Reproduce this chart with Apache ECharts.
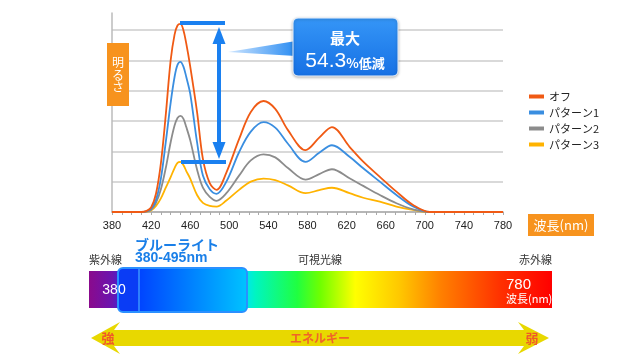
<!DOCTYPE html>
<html><head><meta charset="utf-8">
<script src="https://cdn.jsdelivr.net/npm/echarts@6/dist/echarts.min.js"></script>
<style>html,body{margin:0;padding:0;background:#fff}#c{width:640px;height:360px}</style>
</head><body><div id="c"></div>
<script>
const wavelengths = [380,410,415,420,425,430,435,440,444,447,450,453,456,460,467,473,480,487,497,510,522,535,547,560,578,592,605,623,637,654,671,688,705,720,780];
const offValues   = [0,0,0.03,0.15,0.6,1.6,3.2,5.0,5.85,6.15,6.2,6.0,5.55,4.8,3.3,1.75,0.95,0.73,1.3,2.4,3.3,3.66,3.4,2.7,2.04,2.45,2.8,2.15,1.66,1.16,0.67,0.23,0,0,0];
const p1Values    = [0,0,0.02,0.1,0.4,1.1,2.3,3.6,4.45,4.85,4.95,4.8,4.45,3.9,2.3,1.2,0.75,0.6,1.0,1.97,2.65,2.96,2.78,2.25,1.65,1.95,2.2,1.82,1.44,1.0,0.56,0.18,0,0,0];
const p2Values    = [0,0,0.01,0.07,0.3,0.75,1.45,2.3,2.85,3.1,3.17,3.08,2.8,2.37,1.4,0.8,0.5,0.37,0.62,1.2,1.7,1.9,1.8,1.45,1.07,1.25,1.41,1.11,0.86,0.56,0.29,0.09,0,0,0];
const p3Values    = [0,0,0.01,0.05,0.2,0.45,0.8,1.15,1.45,1.62,1.65,1.55,1.35,1.1,0.56,0.3,0.2,0.18,0.38,0.73,1.0,1.1,1.05,0.88,0.62,0.72,0.8,0.62,0.47,0.34,0.18,0.07,0,0,0];
const seriesNames = ['オフ','パターン1','パターン2','パターン3'];
const seriesColors = ['#f05a14','#3a8ee0','#8c8c8c','#ffb300'];
const xMin = 380, xMax = 780, xStep = 40;
const yMax = 6;

const FONT = "'Liberation Sans','Noto Sans CJK JP',sans-serif";
const JP = "'Noto Sans CJK JP','Liberation Sans',sans-serif";
const allValues = [offValues,p1Values,p2Values,p3Values];

const chart = echarts.init(document.getElementById('c'));
const series = [3,2,1,0].map(k => ({
  name: seriesNames[k], type:'line', xAxisIndex:0, yAxisIndex:0, clip:false,
  data: wavelengths.map((w,i)=>[w, allValues[k][i]]),
  smooth: 0.35, showSymbol:false, z: 5 + (3-k),
  lineStyle:{color:seriesColors[k], width:1.8}, itemStyle:{color:seriesColors[k]}
}));

const spectrum = new echarts.graphic.LinearGradient(0,0,1,0,[
  {offset:0,color:'#8a0a8c'},{offset:0.05,color:'#6a14b0'},{offset:0.08,color:'#2a2ae8'},
  {offset:0.12,color:'#0038ff'},{offset:0.25,color:'#0090ff'},{offset:0.33,color:'#00e0ff'},
  {offset:0.36,color:'#00f5c0'},{offset:0.45,color:'#20ff40'},{offset:0.5,color:'#70ff00'},
  {offset:0.575,color:'#ffff00'},{offset:0.67,color:'#ffc800'},{offset:0.76,color:'#ff8000'},
  {offset:0.89,color:'#ff3000'},{offset:1,color:'#ff0000'}]);

const blueC = '#1a80f0';
chart.setOption({
  animation:false,
  grid:[{left:112, right:137, top:30, bottom:148},
        {left:112, width:1, top:13, bottom:148}],
  xAxis:[{type:'value', gridIndex:0, min:xMin, max:xMax, interval:xStep,
    axisLine:{show:true, lineStyle:{color:'#aaa', width:1.5}},
    axisTick:{show:true, length:3, lineStyle:{color:'#aaa'}},
    minorTick:{show:true, splitNumber:4, length:3, lineStyle:{color:'#aaa'}},
    splitLine:{show:false},
    axisLabel:{color:'#222', fontSize:11, fontFamily:FONT, margin:8}},
    {type:'value', gridIndex:1, show:false, min:0, max:1}],
  yAxis:[{type:'value', gridIndex:0, min:0, max:yMax, interval:1,
    axisLine:{show:false}, axisTick:{show:false}, axisLabel:{show:false},
    splitLine:{show:true, lineStyle:{color:'#cdcdcd', width:1.5}}},
    {type:'value', gridIndex:1, min:0, max:1,
    axisLine:{show:true, lineStyle:{color:'#bbb', width:1.5}},
    axisTick:{show:false}, axisLabel:{show:false}, splitLine:{show:false}}],
  legend:{orient:'vertical', left:524, top:86, itemWidth:15, itemHeight:4, itemGap:5,
    icon:'rect', data:seriesNames, textStyle:{fontSize:11, color:'#222', fontFamily:JP}},
  series: series,
  graphic:[
    {type:'line', shape:{x1:180,y1:23,x2:225,y2:23}, style:{stroke:blueC, lineWidth:4}, z:20},
    {type:'line', shape:{x1:181,y1:162,x2:226,y2:162}, style:{stroke:blueC, lineWidth:4}, z:20},
    {type:'line', shape:{x1:219,y1:38,x2:219,y2:148}, style:{stroke:blueC, lineWidth:4}, z:20},
    {type:'polygon', shape:{points:[[219,27],[212.5,44],[225.5,44]]}, style:{fill:blueC}, z:20},
    {type:'polygon', shape:{points:[[219,159],[212.5,142],[225.5,142]]}, style:{fill:blueC}, z:20},
    {type:'polygon', shape:{points:[[228,52],[296,41],[296,56]]}, z:20,
     style:{fill:new echarts.graphic.LinearGradient(0,0,1,0,[{offset:0,color:'#cfe6ff'},{offset:1,color:'#2a8cf2'}])}},
    {type:'rect', shape:{x:293,y:18,width:105,height:58,r:5}, z:21,
     style:{fill:new echarts.graphic.LinearGradient(0,0,0,1,[{offset:0,color:'#3596f7'},{offset:1,color:'#1670e4'}]),
       stroke:'#e8f2ff', lineWidth:1, shadowBlur:3, shadowColor:'rgba(0,0,0,0.3)', shadowOffsetY:1}},
    {type:'text', x:345, y:38, z:22, style:{text:'最大', fill:'#fff', font:"bold 15px "+JP, align:'center', verticalAlign:'middle'}},
    {type:'text', x:345, y:61, z:22, style:{text:'{a|54.3}{b|%低減}', fill:'#fff', align:'center', verticalAlign:'middle',
      rich:{a:{fontSize:21, fontFamily:FONT, fill:'#fff'}, b:{fontSize:13, fontWeight:'bold', fontFamily:JP, fill:'#fff', padding:[4,0,0,0]}}}},
    {type:'rect', shape:{x:107,y:43,width:22,height:63}, style:{fill:'#f7931e'}, z:20},
    {type:'text', x:118, y:75, z:21, style:{text:'明\nる\nさ', fill:'#fff', font:"12px "+JP, lineHeight:12.5, align:'center', verticalAlign:'middle'}},
    {type:'rect', shape:{x:528,y:214,width:66,height:22}, style:{fill:'#f7931e'}, z:20},
    {type:'text', x:561, y:225, z:21, style:{text:'波長(nm)', fill:'#fff', font:"13px "+JP, align:'center', verticalAlign:'middle'}},
    {type:'rect', shape:{x:89,y:271,width:463,height:37}, style:{fill:spectrum}, z:10},
    {type:'text', x:89, y:260, z:11, style:{text:'紫外線', fill:'#333', font:"11px "+JP, align:'left', verticalAlign:'middle'}},
    {type:'text', x:320, y:260, z:11, style:{text:'可視光線', fill:'#333', font:"11px "+JP, align:'center', verticalAlign:'middle'}},
    {type:'text', x:552, y:260, z:11, style:{text:'赤外線', fill:'#333', font:"11px "+JP, align:'right', verticalAlign:'middle'}},
    {type:'rect', shape:{x:118,y:268,width:129,height:44,r:5}, z:12,
     style:{fill:new echarts.graphic.LinearGradient(0,0,1,0,[{offset:0,color:'#0a3cf5'},{offset:0.16,color:'#0a3cf5'},{offset:0.17,color:'#0044ff'},{offset:1,color:'#00c4ff'}]),
       stroke:'#2a90ff', lineWidth:2}},
    {type:'line', shape:{x1:139,y1:269,x2:139,y2:311}, style:{stroke:'#4aa8ff', lineWidth:1.2}, z:13},
    {type:'text', x:114, y:290, z:14, style:{text:'380', fill:'#fff', font:"14px "+FONT, align:'center', verticalAlign:'middle'}},
    {type:'text', x:135, y:245, z:14, style:{text:'ブルーライト', fill:'#1a7fe8', font:"bold 14px "+JP, align:'left', verticalAlign:'middle'}},
    {type:'text', x:135, y:258, z:14, style:{text:'380-495nm', fill:'#1a7fe8', font:"bold 14px "+FONT, align:'left', verticalAlign:'middle'}},
    {type:'text', x:506, y:285, z:14, style:{text:'780', fill:'#fff', font:"15px "+FONT, align:'left', verticalAlign:'middle'}},
    {type:'text', x:506, y:299, z:14, style:{text:'波長(nm)', fill:'#fff', font:"11px "+JP, align:'left', verticalAlign:'middle'}},
    {type:'polygon', z:10, shape:{points:[[91,338],[120,322],[114,330],[524,330],[518,322],[549,338],[518,354],[524,346],[114,346],[120,354]]},
     style:{fill:'#e8d800'}},
    {type:'text', x:108, y:338, z:11, style:{text:'強', fill:'#f05a28', font:"bold 13px "+JP, align:'center', verticalAlign:'middle'}},
    {type:'text', x:532, y:338, z:11, style:{text:'弱', fill:'#f05a28', font:"bold 13px "+JP, align:'center', verticalAlign:'middle'}},
    {type:'text', x:320, y:338, z:11, style:{text:'エネルギー', fill:'#f06428', font:"bold 12px "+JP, align:'center', verticalAlign:'middle'}}
  ]
});
</script></body></html>
